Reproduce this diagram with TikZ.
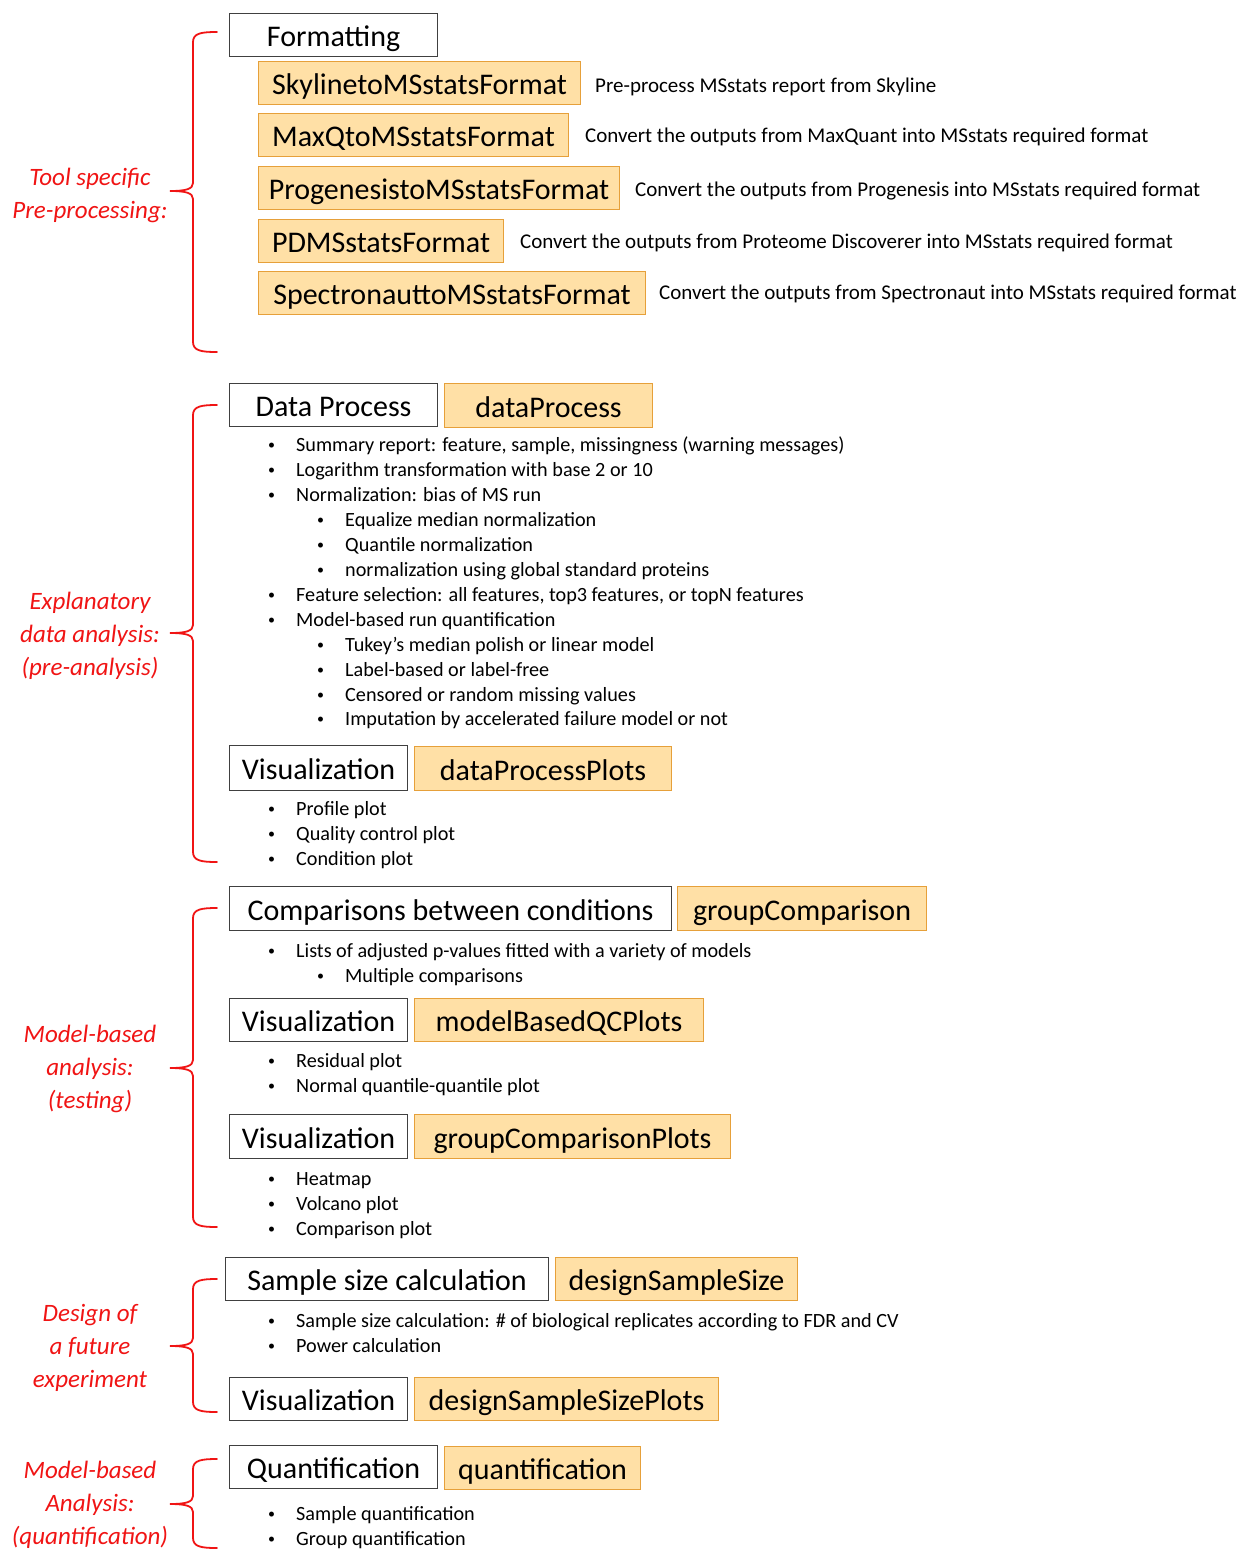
\documentclass[tikz,border=0pt]{standalone}
\usepackage{fontspec}
\setmainfont{Carlito}
\definecolor{boxfill}{HTML}{FFE0A6}
\definecolor{boxline}{HTML}{E6A03A}
\definecolor{bracered}{HTML}{F01414}
\newcommand{\boxfont}{\fontsize{30}{32}\selectfont}
\newcommand{\descfont}{\fontsize{21}{24}\selectfont}
\newcommand{\bulfont}{\fontsize{20.2}{23}\selectfont}
\newcommand{\labfont}{\fontsize{25}{33}\selectfont\itshape}
\newcommand{\bu}{\makebox[25pt][l]{\hspace{-3pt}\raisebox{1.5pt}{\fontsize{14}{14}\selectfont •}}}
\newcommand{\mybrace}[3]{%
  \draw[bracered, line width=1.8pt, line cap=round]
    (217,#1) .. controls (202,#1) and (193,#1+1) .. (193,#1+10)
    -- (193,#2-8) .. controls (193,#2-2) and (186,#2) .. (170,#2)
    .. controls (186,#2) and (193,#2+2) .. (193,#2+8)
    -- (193,#3-10) .. controls (193,#3-1) and (202,#3) .. (217,#3);}
\begin{document}
\begin{tikzpicture}[x=1pt,y=-1pt,
  wbox/.style={draw=black!75, line width=1.1pt, inner sep=0pt, minimum height=43pt,
    anchor=north west, font=\boxfont, text height=25pt, text depth=2pt},
  obox/.style={wbox, draw=boxline, fill=boxfill},
  desc/.style={anchor=west, inner sep=0pt, font=\descfont, text height=16pt, text depth=2pt},
  bl/.style={anchor=west, inner sep=0pt, font=\bulfont, text height=16pt, text depth=2pt},
  lab/.style={align=center, text=bracered, font=\labfont, inner sep=0pt}]
\useasboundingbox (0,0) rectangle (1238,1550);
% ---------- Section 1
\mybrace{32}{191}{352}
\node[lab] (l1) at (90,195) {Tool specific\\Pre-processing:};
\node[wbox, minimum width=208pt] (fmt) at (229,13) {Formatting};
\node[obox, minimum width=322pt] (sky) at (258,61) {SkylinetoMSstatsFormat};
\node[obox, minimum width=310pt] (maxq) at (258,113) {MaxQtoMSstatsFormat};
\node[obox, minimum width=361pt] (prog) at (258,166) {ProgenesistoMSstatsFormat};
\node[obox, minimum width=245pt] (pd) at (258,219) {PDMSstatsFormat};
\node[obox, minimum width=387pt] (spec) at (258,271) {SpectronauttoMSstatsFormat};
\node[desc] (dsky) at (595,85) {Pre-process MSstats report from Skyline};
\node[desc] (dmaxq) at (585,135) {Convert the outputs from MaxQuant into MSstats required format};
\node[desc] (dprog) at (635,189) {Convert the outputs from Progenesis into MSstats required format};
\node[desc] (dpd) at (520,241) {Convert the outputs from Proteome Discoverer into MSstats required format};
\node[desc] (dspec) at (659,292) {Convert the outputs from Spectronaut into MSstats required format};
% ---------- Section 2
\mybrace{405}{633}{862}
\node[lab] (l2) at (90,636) {Explanatory\\data analysis:\\(pre-analysis)};
\node[wbox, minimum width=208pt] (dp) at (229,383) {Data Process};
\node[obox, minimum width=208pt, minimum height=44pt] (dpf) at (444,383) {dataProcess};
\node[bl] (b1) at (271,444) {\bu Summary report: feature, sample, missingness (warning messages)};
\node[bl] (b2) at (271,469) {\bu Logarithm transformation with base 2 or 10};
\node[bl] (b3) at (271,494) {\bu Normalization: bias of MS run};
\node[bl] (b4) at (320,519) {\bu Equalize median normalization};
\node[bl] (b5) at (320,544) {\bu Quantile normalization};
\node[bl] (b6) at (320,569) {\bu normalization using global standard proteins};
\node[bl] (b7) at (271,594) {\bu Feature selection: all features, top3 features, or topN features};
\node[bl] (b8) at (271,619) {\bu Model-based run quantification};
\node[bl] (b9) at (320,644) {\bu Tukey’s median polish or linear model};
\node[bl] (b10) at (320,669) {\bu Label-based or label-free};
\node[bl] (b11) at (320,694) {\bu Censored or random missing values};
\node[bl] (b12) at (320,718) {\bu Imputation by accelerated failure model or not};
\node[wbox, minimum width=178pt, minimum height=45pt] (v1) at (229,745) {Visualization};
\node[obox, minimum width=257pt, minimum height=44pt] (dpp) at (414,746) {dataProcessPlots};
\node[bl] (b13) at (271,808) {\bu Profile plot};
\node[bl] (b14) at (271,833) {\bu Quality control plot};
\node[bl] (b15) at (271,858) {\bu Condition plot};
% ---------- Section 3
\mybrace{908}{1068}{1227}
\node[lab] (l3) at (90,1069) {Model-based\\analysis:\\(testing)};
\node[wbox, minimum width=442pt, minimum height=44pt] (cmp) at (229,886) {Comparisons between conditions};
\node[obox, minimum width=249pt, minimum height=44pt] (gc) at (677,886) {groupComparison};
\node[bl] (c1) at (271,950) {\bu Lists of adjusted p-values fitted with a variety of models};
\node[bl] (c2) at (320,975) {\bu Multiple comparisons};
\node[wbox, minimum width=178pt] (v2) at (229,998) {Visualization};
\node[obox, minimum width=289pt] (mbqc) at (414,998) {modelBasedQCPlots};
\node[bl] (c3) at (271,1060) {\bu Residual plot};
\node[bl] (c4) at (271,1085) {\bu Normal quantile-quantile plot};
\node[wbox, minimum width=178pt, minimum height=44pt] (v3) at (229,1114) {Visualization};
\node[obox, minimum width=316pt, minimum height=44pt] (gcp) at (414,1114) {groupComparisonPlots};
\node[bl] (c5) at (271,1178) {\bu Heatmap};
\node[bl] (c6) at (271,1203) {\bu Volcano plot};
\node[bl] (c7) at (271,1228) {\bu Comparison plot};
% ---------- Section 4
\mybrace{1279}{1346}{1412}
\node[lab] (l4) at (90,1348) {Design of\\a future\\experiment};
\node[wbox, minimum width=323pt] (ss) at (225,1257) {Sample size calculation};
\node[obox, minimum width=242pt] (dss) at (555,1257) {designSampleSize};
\node[bl] (s1) at (271,1320) {\bu Sample size calculation: \# of biological replicates according to FDR and CV};
\node[bl] (s2) at (271,1345) {\bu Power calculation};
\node[wbox, minimum width=178pt] (v4) at (229,1377) {Visualization};
\node[obox, minimum width=304pt] (dssp) at (414,1377) {designSampleSizePlots};
% ---------- Section 5
\mybrace{1459}{1504}{1548}
\node[lab] (l5) at (90,1505) {Model-based\\Analysis:\\(quantification)};
\node[wbox, minimum width=208pt] (qt) at (229,1445) {Quantification};
\node[obox, minimum width=196pt] (qf) at (444,1446) {quantification};
\node[bl] (q1) at (271,1513) {\bu Sample quantification};
\node[bl] (q2) at (271,1538) {\bu Group quantification};
\end{tikzpicture}
\end{document}
